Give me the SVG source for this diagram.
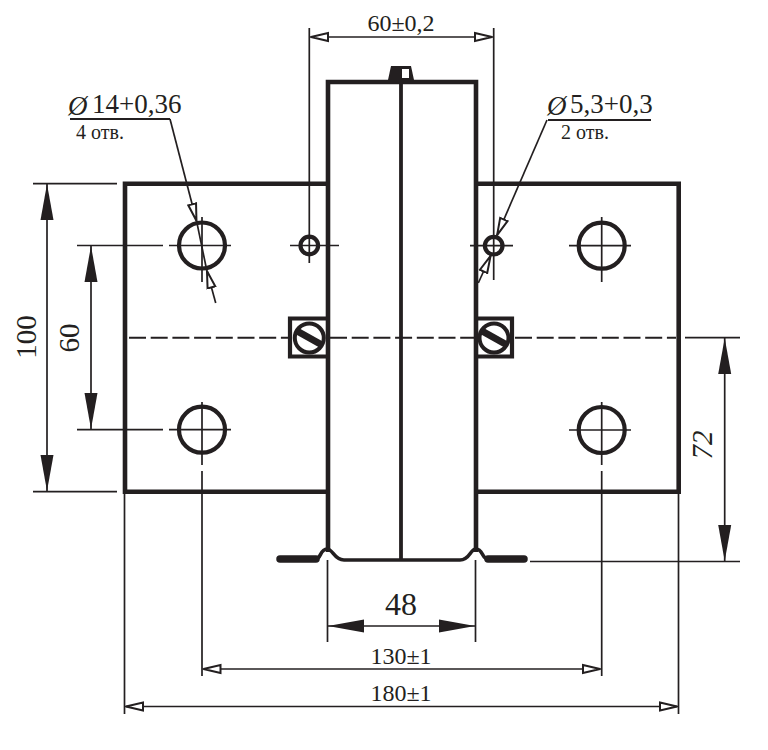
<svg xmlns="http://www.w3.org/2000/svg" width="768" height="750" viewBox="0 0 768 750">
<style>
text{font-family:"Liberation Serif","Times New Roman",serif;fill:#231f20}
.m{text-anchor:middle}
.t{fill:none;stroke:#231f20;stroke-width:4.6}
.h{fill:none;stroke:#231f20;stroke-width:4.2}
.s{fill:none;stroke:#231f20;stroke-width:1.7}
.d{fill:none;stroke:#231f20;stroke-width:2;stroke-dasharray:17 4.7}
.a{marker-start:url(#fa);marker-end:url(#fa)}
.o{marker-start:url(#oa);marker-end:url(#oa)}
.n{marker-end:url(#oa)}
</style>
<defs>
<marker id="fa" markerUnits="userSpaceOnUse" markerWidth="38" markerHeight="16" refX="36" refY="7" orient="auto-start-reverse" viewBox="0 0 38 14"><path d="M0 0.5L36 7L0 13.5Z" fill="#231f20"/></marker>
<marker id="oa" markerUnits="userSpaceOnUse" markerWidth="22" markerHeight="12" refX="19" refY="5" orient="auto-start-reverse" viewBox="0 0 22 10"><path d="M1 1L18 5L1 9Z" fill="#fff" stroke="#231f20" stroke-width="2"/></marker>
</defs>
<rect width="768" height="750" fill="#fff"/>
<g id="body">
<path class="t" d="M327 183.7H125V491.7H327M476 183.7H678.7V491.7H476"/>
<path class="t" d="M328 552V82H476V552"/>
<path d="M401 82V560" fill="none" stroke="#231f20" stroke-width="3.8"/>
<path d="M388 80L391 66H411L414 80Z" fill="#231f20"/>
<rect x="402" y="69" width="7" height="9" fill="#fff"/>
<path d="M280 559H316C321 559 320 549 327 549C333 549 334 560 344 560H460C470 560 470 549 476 549C483 549 482 559 488 559H524" fill="none" stroke="#231f20" stroke-width="3.6"/>
<path d="M280 559H316M488 559H524" fill="none" stroke="#231f20" stroke-width="7.5" stroke-linecap="round"/>
</g>
<g id="hole-top-left"><circle class="h" cx="202" cy="245.5" r="23"/><path class="s" d="M169 245.5H231M202 217V282"/></g>
<g id="hole-bottom-left"><circle class="h" cx="202" cy="429.7" r="23"/><path class="s" d="M169 429.7H231M202 402V465"/></g>
<g id="hole-top-right"><circle class="h" cx="601.7" cy="245.7" r="23"/><path class="s" d="M569 245.7H631M601.7 217V282"/></g>
<g id="hole-bottom-right"><circle class="h" cx="601.7" cy="430" r="23"/><path class="s" d="M569 430H631M601.7 402V465"/></g>
<g id="hole-small-left"><circle class="h" cx="309.3" cy="245.5" r="8.8"/><path class="s" d="M290 245.5H339M309.3 245.5V263"/></g>
<g id="hole-small-right"><circle class="h" cx="493.7" cy="245.7" r="8.8"/><path class="s" d="M470 245.7H513M493.7 245.7V280"/></g>
<g id="screw-left"><path class="h" d="M327 318.5H290V356.500H327"/><circle cx="309.300" cy="338" r="14.500" fill="#fff" stroke="#231f20" stroke-width="4"/><path d="M297 331L322 345" stroke="#231f20" stroke-width="7"/></g>
<g id="screw-right"><path class="h" d="M476 318.500H512V356.500H476"/><circle cx="494" cy="338" r="14.500" fill="#fff" stroke="#231f20" stroke-width="4"/><path d="M482 331L507 345" stroke="#231f20" stroke-width="7"/></g>
<g id="connectors">
<path class="d" d="M129 337.700H288M330 337.700H476M515 337.700H676"/>
<path class="s" d="M33 183.700H117M33 491.700H117M77 245.500H163M77 429.700H163M685 337.700H740M530 561.500H740"/>
<path class="s a" d="M47 184V491"/>
<path class="s a" d="M91 246V429"/>
<path class="s a" d="M724.700 338V561"/>
<path class="s" d="M327.500 560V642M475.500 560V642M124.500 494V714M678.500 494V714M202 471V676M601.700 471V676M309.300 28V245M493.700 28V245"/>
<path class="s a" d="M328 626H475"/>
<path class="s o" d="M202.500 669H601"/>
<path class="s o" d="M125 706.500H678"/>
<path class="s o" d="M310 37H493"/>
<path d="M70 119H170" fill="none" stroke="#231f20" stroke-width="2.200"/>
<path d="M548 120H651" fill="none" stroke="#231f20" stroke-width="2.200"/>
<path class="s n" d="M170 119L196.700 221.700"/>
<path class="s" d="M196.700 221.700L206.700 270"/>
<path class="s n" d="M215.700 303L206.700 270"/>
<path class="s n" d="M547 120L496.700 236"/>
<path class="s n" d="M478.300 283L491 255"/>
</g>
<g id="labels">
<text class="m" x="401" y="31" font-size="24">60±0,2</text>
<text x="68" y="115" font-size="27" font-style="italic">Ø</text>
<text x="92" y="113" font-size="27">14+0,36</text>
<text x="76" y="139" font-size="20">4 отв.</text>
<text x="547" y="115" font-size="27" font-style="italic">Ø</text>
<text x="570" y="113" font-size="27">5,3+0,3</text>
<text x="561" y="139" font-size="20">2 отв.</text>
<text class="m" font-size="29" transform="translate(36 337) rotate(-90)">100</text>
<text class="m" font-size="29" transform="translate(79 338) rotate(-90)">60</text>
<text class="m" font-size="29" font-style="italic" transform="translate(712 445) rotate(-90)">72</text>
<text class="m" x="401" y="615" font-size="32">48</text>
<text class="m" x="401" y="664" font-size="24">130±1</text>
<text class="m" x="401" y="701" font-size="24">180±1</text>
</g>
</svg>
